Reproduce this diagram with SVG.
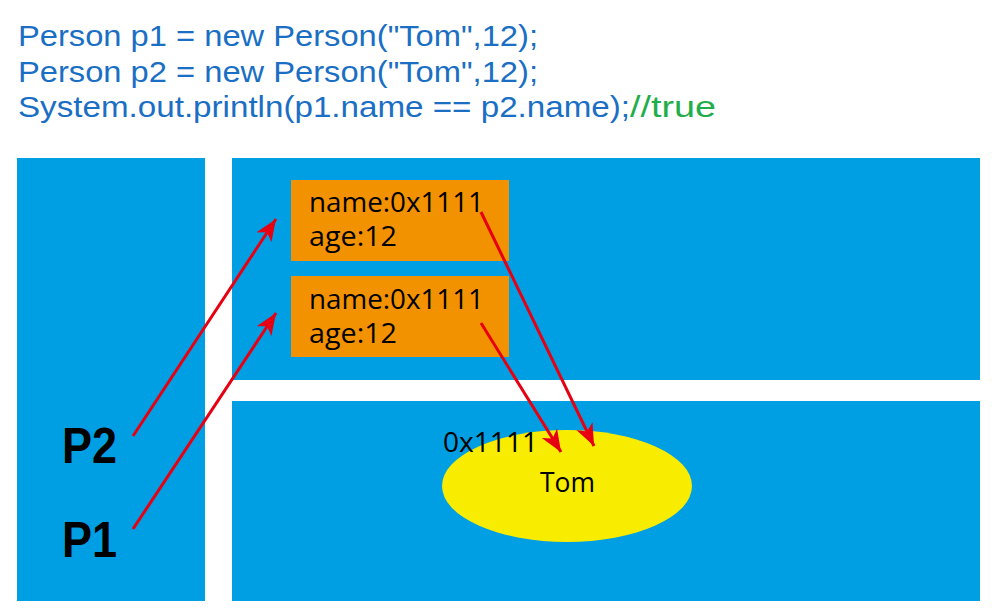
<svg xmlns="http://www.w3.org/2000/svg" width="998" height="616" viewBox="0 0 998 616">
<style>
.code{font-family:"Liberation Sans",Arial,sans-serif;font-size:30px;fill:#1a6fc4}
.cm{fill:#1fae4b}
.panel{fill:#009fe3}
.obj{fill:#f39200}
.t{font-family:"Open Sans","Noto Sans","Liberation Sans",sans-serif;font-size:27px;fill:#000}
.p{font-family:"Liberation Sans",Arial,sans-serif;font-size:50px;font-weight:bold;fill:#000}
.arr{stroke:#e60012;stroke-width:3;fill:none;marker-end:url(#ah)}
</style>
<defs>
<marker id="ah" markerUnits="userSpaceOnUse" markerWidth="24" markerHeight="20" refX="22" refY="9" orient="auto">
<path d="M0,0 L22,9 L0,18 L6,9 Z" fill="#e60012"/>
</marker>
</defs>
<rect width="998" height="616" fill="#fff"/>
<g id="code">
<text class="code" x="18" y="46" textLength="520" lengthAdjust="spacingAndGlyphs">Person p1 = new Person("Tom",12);</text>
<text class="code" x="18" y="82" textLength="520" lengthAdjust="spacingAndGlyphs">Person p2 = new Person("Tom",12);</text>
<text class="code" x="18" y="117"><tspan textLength="612" lengthAdjust="spacingAndGlyphs">System.out.println(p1.name == p2.name);</tspan><tspan class="cm" textLength="86" lengthAdjust="spacingAndGlyphs">//true</tspan></text>
</g>
<g id="stack">
<rect class="panel" x="17" y="158" width="188" height="443"/>
<text class="p" x="62" y="463" textLength="55" lengthAdjust="spacingAndGlyphs">P2</text>
<text class="p" x="62" y="557" textLength="55" lengthAdjust="spacingAndGlyphs">P1</text>
</g>
<g id="heap">
<rect class="panel" x="232" y="158" width="748" height="222"/>
</g>
<g id="obj1">
<rect class="obj" x="291" y="180" width="218" height="81"/>
<text class="t" x="309" y="212" textLength="175" lengthAdjust="spacingAndGlyphs">name:0x1111</text>
<text class="t" x="309" y="246" textLength="88" lengthAdjust="spacingAndGlyphs">age:12</text>
</g>
<g id="obj2">
<rect class="obj" x="291" y="276" width="218" height="81"/>
<text class="t" x="309" y="309" textLength="175" lengthAdjust="spacingAndGlyphs">name:0x1111</text>
<text class="t" x="309" y="343" textLength="88" lengthAdjust="spacingAndGlyphs">age:12</text>
</g>
<g id="pool">
<rect class="panel" x="232" y="401" width="748" height="200"/>
<ellipse cx="567" cy="486" rx="125" ry="56" fill="#f8ec00"/>
<text class="t" x="443" y="452" textLength="95" lengthAdjust="spacingAndGlyphs">0x1111</text>
<text class="t" x="540" y="492" textLength="55" lengthAdjust="spacingAndGlyphs">Tom</text>
</g>
<g id="connectors">
<line class="arr" x1="133" y1="436" x2="276" y2="219"/>
<line class="arr" x1="133" y1="529" x2="276" y2="313"/>
<line class="arr" x1="481" y1="212" x2="594" y2="446"/>
<line class="arr" x1="481" y1="323" x2="561" y2="452"/>
</g>
</svg>
